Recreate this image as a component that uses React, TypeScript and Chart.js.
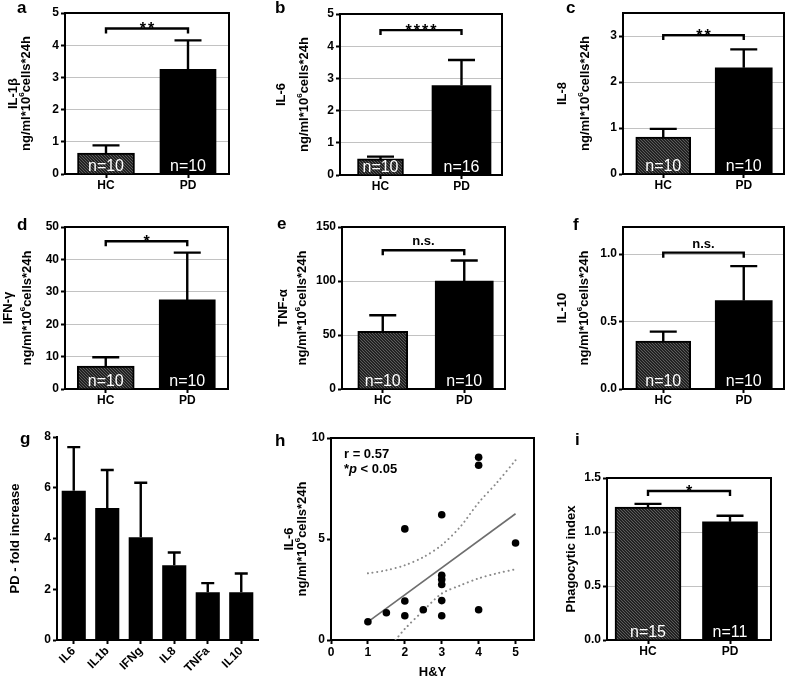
import React, { useEffect, useRef } from 'react';
import { Chart, registerables } from 'chart.js';
Chart.register(...registerables);

const FONT = "'Liberation Sans', Arial, Helvetica, sans-serif";
const PAGE_W = 787;
const PAGE_H = 677;
const YW = 40;

// ---------------- data ----------------
const groups = ['HC', 'PD'];

const il1bMean = [0.65, 3.25];
const il1bErr = [0.24, 0.9];
const il1bN = ['n=10', 'n=10'];
const il1bBracket = 4.52;
const il1bSig = '**';

const il6Mean = [0.5, 2.78];
const il6Err = [0.07, 0.79];
const il6N = ['n=10', 'n=16'];
const il6Bracket = 4.5;
const il6Sig = '****';

const il8Mean = [0.8, 2.31];
const il8Err = [0.18, 0.4];
const il8N = ['n=10', 'n=10'];
const il8Bracket = 3.02;
const il8Sig = '**';

const ifngMean = [7.1, 27.5];
const ifngErr = [2.7, 14.6];
const ifngN = ['n=10', 'n=10'];
const ifngBracket = 45.6;
const ifngSig = '*';

const tnfaMean = [53.5, 100];
const tnfaErr = [14.8, 19];
const tnfaN = ['n=10', 'n=10'];
const tnfaBracket = 128.5;
const tnfaSig = 'n.s.';

const il10Mean = [0.355, 0.655];
const il10Err = [0.07, 0.255];
const il10N = ['n=10', 'n=10'];
const il10Bracket = 1.01;
const il10Sig = 'n.s.';

const phagMean = [1.23, 1.095];
const phagErr = [0.03, 0.055];
const phagN = ['n=15', 'n=11'];
const phagBracket = 1.38;
const phagSig = '*';

const foldLabels = ['IL6', 'IL1b', 'IFNg', 'IL8', 'TNFa', 'IL10'];
const foldMean = [5.88, 5.2, 4.05, 2.95, 1.88, 1.88];
const foldErr = [1.72, 1.5, 2.15, 0.5, 0.36, 0.74];

const hyX = [1, 1.5, 2, 2, 2, 2.5, 3, 3, 3, 3, 3, 3, 4, 4, 4, 5];
const hyIL6 = [0.9, 1.35, 5.5, 1.93, 1.2, 1.5, 6.2, 3.2, 3.0, 2.75, 1.95, 1.2, 9.05, 8.65, 1.5, 4.8];
const fitX = [1, 5];
const fitY = [0.9, 6.25];
const ciUpperX = [1, 1.5, 2, 2.5, 3, 3.5, 4, 4.5, 5];
const ciUpperY = [3.3, 3.45, 3.7, 4.1, 4.7, 5.6, 6.8, 7.8, 8.9];
const ciLowerX = [1.75, 2, 2.5, 3, 3.5, 4, 4.5, 5];
const ciLowerY = [0, 0.55, 1.45, 2.3, 2.7, 3.05, 3.3, 3.5];
const hyStat1 = 'r = 0.57';
const hyStat2 = 'p < 0.05';

// ---------------- helpers ----------------
type Part = { t: string; sup?: boolean };
type Rect = { l: number; t: number; r: number; b: number };

const UNIT_LINE: Part[] = [{ t: 'ng/ml*10' }, { t: '6', sup: true }, { t: 'cells*24h' }];

function makeHatch(): CanvasPattern {
  const c = document.createElement('canvas');
  c.width = 6;
  c.height = 6;
  const g = c.getContext('2d')!;
  g.fillStyle = '#222222';
  g.fillRect(0, 0, 6, 6);
  g.strokeStyle = '#5c5c5c';
  g.lineWidth = 1;
  for (const k of [-6, -3, 0, 3, 6]) {
    g.beginPath();
    g.moveTo(k, 0);
    g.lineTo(k + 6, 6);
    g.stroke();
  }
  return g.createPattern(c, 'repeat')!;
}

function drawRotated(ctx: CanvasRenderingContext2D, x: number, y: number, parts: Part[], size: number) {
  ctx.save();
  ctx.translate(x, y);
  ctx.rotate(-Math.PI / 2);
  const main = `bold ${size}px ${FONT}`;
  const sup = `bold ${Math.round(size * 0.65)}px ${FONT}`;
  let total = 0;
  for (const p of parts) {
    ctx.font = p.sup ? sup : main;
    total += ctx.measureText(p.t).width;
  }
  let cx = -total / 2;
  ctx.textAlign = 'left';
  ctx.textBaseline = 'middle';
  ctx.fillStyle = '#000';
  for (const p of parts) {
    ctx.font = p.sup ? sup : main;
    ctx.fillText(p.t, cx, p.sup ? -4 : 0);
    cx += ctx.measureText(p.t).width;
  }
  ctx.restore();
}

type Decor = {
  plot: Rect;
  box: boolean;
  cap: number;
  titleLines: Part[][];
  titleXs: number[];
  letter: string;
  letterXY: [number, number];
  bracket?: number;
  sig?: string;
  extra?: (ctx: CanvasRenderingContext2D, chart: any) => void;
};

function makeDecor(d: Decor) {
  return {
    id: 'decor',
    afterDatasetsDraw(chart: any) {
      const ctx: CanvasRenderingContext2D = chart.ctx;
      const ys = chart.scales.y;
      chart.data.datasets.forEach((ds: any, i: number) => {
        const meta = chart.getDatasetMeta(i);
        if (ds.errs) {
          meta.data.forEach((el: any, j: number) => {
            const v = ds.data[j];
            const e = ds.errs[j];
            if (v == null || e == null) return;
            const yTop = ys.getPixelForValue(v + e);
            ctx.save();
            ctx.strokeStyle = '#000';
            ctx.lineWidth = 2.4;
            ctx.beginPath();
            ctx.moveTo(el.x, el.y);
            ctx.lineTo(el.x, yTop);
            ctx.moveTo(el.x - d.cap / 2, yTop);
            ctx.lineTo(el.x + d.cap / 2, yTop);
            ctx.stroke();
            ctx.restore();
          });
        }
        if (ds.nLabels) {
          meta.data.forEach((el: any, j: number) => {
            const t = ds.nLabels[j];
            if (!t) return;
            ctx.save();
            ctx.fillStyle = '#fff';
            ctx.font = `16px ${FONT}`;
            ctx.textAlign = 'center';
            ctx.textBaseline = 'alphabetic';
            ctx.fillText(t, el.x, chart.chartArea.bottom - 3);
            ctx.restore();
          });
        }
      });
    },
    afterDraw(chart: any) {
      const ctx: CanvasRenderingContext2D = chart.ctx;
      const { plot } = d;
      ctx.save();
      ctx.strokeStyle = '#000';
      ctx.lineWidth = 2;
      if (d.box) {
        ctx.beginPath();
        ctx.moveTo(plot.l - 1, plot.t);
        ctx.lineTo(plot.r, plot.t);
        ctx.lineTo(plot.r, plot.b);
        ctx.stroke();
      }
      if (d.bracket != null) {
        const xs = chart.scales.x;
        const x0 = xs.getPixelForValue(0);
        const x1 = xs.getPixelForValue(1);
        const y = chart.scales.y.getPixelForValue(d.bracket);
        ctx.lineWidth = 2.4;
        ctx.beginPath();
        ctx.moveTo(x0, y + 5);
        ctx.lineTo(x0, y);
        ctx.lineTo(x1, y);
        ctx.lineTo(x1, y + 5);
        ctx.stroke();
        ctx.fillStyle = '#000';
        ctx.textAlign = 'center';
        ctx.textBaseline = 'alphabetic';
        if (d.sig === 'n.s.') {
          ctx.font = `bold 13px ${FONT}`;
          ctx.fillText(d.sig, (x0 + x1) / 2, y - 5);
        } else {
          ctx.font = `bold 16px ${FONT}`;
          (ctx as any).letterSpacing = '2px';
          ctx.fillText(d.sig || '', (x0 + x1) / 2 + 1, y + 6);
          (ctx as any).letterSpacing = '0px';
        }
      }
      ctx.restore();
      const cy = (plot.t + plot.b) / 2;
      d.titleLines.forEach((ln, i) => drawRotated(ctx, d.titleXs[i], cy, ln, 13));
      ctx.save();
      ctx.fillStyle = '#000';
      ctx.font = `bold 17px ${FONT}`;
      ctx.textAlign = 'left';
      ctx.textBaseline = 'alphabetic';
      ctx.fillText(d.letter, d.letterXY[0], d.letterXY[1]);
      ctx.restore();
      if (d.extra) d.extra(ctx, chart);
    },
  };
}

const tickFont = { family: FONT, size: 12, weight: 'bold' as const };

function padding(plot: Rect, xh: number) {
  return { left: plot.l - YW, top: plot.t, right: PAGE_W - plot.r, bottom: PAGE_H - plot.b - xh };
}

function yScale(max: number, step: number, decimals: number, grid: boolean) {
  return {
    min: 0,
    max,
    grid: {
      display: true,
      drawOnChartArea: grid,
      color: (c: any) => (c.tick && c.tick.value > 1e-9 && c.tick.value < max - 1e-9 ? '#c2c2c2' : 'rgba(0,0,0,0)'),
      lineWidth: 1,
      tickColor: '#000',
      tickLength: 4,
      tickWidth: 2,
    },
    border: { display: true, color: '#000', width: 2 },
    ticks: {
      stepSize: step,
      includeBounds: false,
      color: '#000',
      font: tickFont,
      padding: 2,
      callback: (v: any) => Number(v).toFixed(decimals),
    },
    afterFit: (s: any) => {
      s.width = YW;
    },
  };
}

type BarOpts = {
  plot: Rect;
  yMax: number;
  yStep: number;
  decimals: number;
  means: number[];
  errs: number[];
  ns: string[];
  thick: number[];
  bracket: number;
  sig: string;
  titleLines: Part[][];
  titleXs: number[];
  letter: string;
  letterXY: [number, number];
};

function barPanel(o: BarOpts) {
  return (hatch: CanvasPattern) => ({
    type: 'bar',
    data: {
      labels: groups,
      datasets: [
        {
          data: [o.means[0], null],
          errs: [o.errs[0], null],
          nLabels: [o.ns[0], null],
          backgroundColor: hatch,
          borderColor: '#000',
          borderWidth: 2,
          barThickness: o.thick[0],
          grouped: false,
        },
        {
          data: [null, o.means[1]],
          errs: [null, o.errs[1]],
          nLabels: [null, o.ns[1]],
          backgroundColor: '#000',
          borderColor: '#000',
          borderWidth: 0,
          barThickness: o.thick[1],
          grouped: false,
        },
      ],
    },
    options: {
      responsive: false,
      animation: false,
      devicePixelRatio: 1,
      layout: { padding: padding(o.plot, 24) },
      plugins: { legend: { display: false }, tooltip: { enabled: false } },
      scales: {
        x: {
          type: 'category',
          offset: true,
          grid: { display: true, drawOnChartArea: false, offset: false, tickLength: 4, tickWidth: 2, tickColor: '#000' },
          border: { display: true, color: '#000', width: 2 },
          ticks: { color: '#000', font: tickFont, padding: 0 },
          afterFit: (s: any) => {
            s.height = 24;
          },
        },
        y: yScale(o.yMax, o.yStep, o.decimals, true),
      },
    },
    plugins: [
      makeDecor({
        plot: o.plot,
        box: true,
        cap: 27,
        titleLines: o.titleLines,
        titleXs: o.titleXs,
        letter: o.letter,
        letterXY: o.letterXY,
        bracket: o.bracket,
        sig: o.sig,
      }),
    ],
  });
}

const panelA = barPanel({
  plot: { l: 65, t: 13, r: 229, b: 174 }, yMax: 5, yStep: 1, decimals: 0,
  means: il1bMean, errs: il1bErr, ns: il1bN, thick: [57, 56], bracket: il1bBracket, sig: il1bSig,
  titleLines: [[{ t: 'IL-1β' }], UNIT_LINE], titleXs: [13, 26], letter: 'a', letterXY: [17, 13],
});
const panelB = barPanel({
  plot: { l: 340, t: 14, r: 502, b: 175 }, yMax: 5, yStep: 1, decimals: 0,
  means: il6Mean, errs: il6Err, ns: il6N, thick: [46, 59], bracket: il6Bracket, sig: il6Sig,
  titleLines: [[{ t: 'IL-6' }], UNIT_LINE], titleXs: [281, 304], letter: 'b', letterXY: [275, 13],
});
const panelC = barPanel({
  plot: { l: 623, t: 13, r: 784, b: 174 }, yMax: 3.5, yStep: 1, decimals: 0,
  means: il8Mean, errs: il8Err, ns: il8N, thick: [55, 57], bracket: il8Bracket, sig: il8Sig,
  titleLines: [[{ t: 'IL-8' }], UNIT_LINE], titleXs: [562, 585], letter: 'c', letterXY: [566, 13],
});
const panelD = barPanel({
  plot: { l: 65, t: 227, r: 228, b: 389 }, yMax: 50, yStep: 10, decimals: 0,
  means: ifngMean, errs: ifngErr, ns: ifngN, thick: [57, 56], bracket: ifngBracket, sig: ifngSig,
  titleLines: [[{ t: 'IFN-γ' }], UNIT_LINE], titleXs: [8, 27], letter: 'd', letterXY: [17, 230],
});
const panelE = barPanel({
  plot: { l: 342, t: 227, r: 505, b: 389 }, yMax: 150, yStep: 50, decimals: 0,
  means: tnfaMean, errs: tnfaErr, ns: tnfaN, thick: [50, 58], bracket: tnfaBracket, sig: tnfaSig,
  titleLines: [[{ t: 'TNF-α' }], UNIT_LINE], titleXs: [283, 302], letter: 'e', letterXY: [277, 229],
});
const panelF = barPanel({
  plot: { l: 623, t: 227, r: 784, b: 389 }, yMax: 1.2, yStep: 0.5, decimals: 1,
  means: il10Mean, errs: il10Err, ns: il10N, thick: [55, 57], bracket: il10Bracket, sig: il10Sig,
  titleLines: [[{ t: 'IL-10' }], UNIT_LINE], titleXs: [562, 584], letter: 'f', letterXY: [573, 230],
});
const panelI = barPanel({
  plot: { l: 607, t: 478, r: 771, b: 640 }, yMax: 1.5, yStep: 0.5, decimals: 1,
  means: phagMean, errs: phagErr, ns: phagN, thick: [66, 55], bracket: phagBracket, sig: phagSig,
  titleLines: [[{ t: 'Phagocytic index' }]], titleXs: [571], letter: 'i', letterXY: [575, 445],
});

const gPlot: Rect = { l: 57, t: 437, r: 258, b: 640 };
const panelG = (_h: CanvasPattern) => ({
  type: 'bar',
  data: {
    labels: foldLabels,
    datasets: [
      {
        data: foldMean,
        errs: foldErr,
        backgroundColor: '#000',
        borderWidth: 0,
        barPercentage: 0.72,
        categoryPercentage: 1,
      },
    ],
  },
  options: {
    responsive: false,
    animation: false,
    devicePixelRatio: 1,
    layout: { padding: padding(gPlot, 40) },
    plugins: { legend: { display: false }, tooltip: { enabled: false } },
    scales: {
      x: {
        type: 'category',
        offset: true,
        grid: { display: true, drawOnChartArea: false, offset: false, tickLength: 4, tickWidth: 2, tickColor: '#000' },
        border: { display: true, color: '#000', width: 2 },
        ticks: { color: '#000', font: tickFont, padding: 0, minRotation: 45, maxRotation: 45 },
        afterFit: (s: any) => {
          s.height = 40;
        },
      },
      y: yScale(8, 2, 0, false),
    },
  },
  plugins: [
    makeDecor({
      plot: gPlot, box: false, cap: 13,
      titleLines: [[{ t: 'PD - fold increase' }]], titleXs: [15],
      letter: 'g', letterXY: [20, 444],
    }),
  ],
});

const hPlot: Rect = { l: 331, t: 438, r: 534, b: 640 };
const toPts = (xs: number[], ys: number[]) => xs.map((x, i) => ({ x, y: ys[i] }));
const panelH = (_h: CanvasPattern) => ({
  type: 'scatter',
  data: {
    datasets: [
      {
        data: toPts(hyX, hyIL6),
        backgroundColor: '#000',
        borderColor: '#000',
        pointRadius: 3.8,
        borderWidth: 0,
      },
      {
        data: toPts(fitX, fitY),
        showLine: true,
        borderColor: '#6e6e6e',
        borderWidth: 1.6,
        pointRadius: 0,
      },
      {
        data: toPts(ciUpperX, ciUpperY),
        showLine: true,
        borderColor: '#8a8a8a',
        borderWidth: 2,
        borderDash: [0.1, 4.6],
        borderCapStyle: 'round',
        pointRadius: 0,
        tension: 0.3,
      },
      {
        data: toPts(ciLowerX, ciLowerY),
        showLine: true,
        borderColor: '#8a8a8a',
        borderWidth: 2,
        borderDash: [0.1, 4.6],
        borderCapStyle: 'round',
        pointRadius: 0,
        tension: 0.3,
      },
    ],
  },
  options: {
    responsive: false,
    animation: false,
    devicePixelRatio: 1,
    layout: { padding: padding(hPlot, 36) },
    plugins: { legend: { display: false }, tooltip: { enabled: false } },
    scales: {
      x: {
        type: 'linear',
        min: 0,
        max: 5.5,
        grid: { display: true, drawOnChartArea: false, tickLength: 4, tickWidth: 2, tickColor: '#000' },
        border: { display: true, color: '#000', width: 2 },
        ticks: { stepSize: 1, includeBounds: false, color: '#000', font: tickFont, padding: 1 },
        afterBuildTicks: (s: any) => {
          s.ticks = s.ticks.filter((t: any) => Number.isInteger(t.value));
        },
        afterFit: (s: any) => {
          s.height = 36;
        },
      },
      y: yScale(10, 5, 0, false),
    },
  },
  plugins: [
    makeDecor({
      plot: hPlot, box: true, cap: 0,
      titleLines: [[{ t: 'IL-6' }], UNIT_LINE], titleXs: [289, 302],
      letter: 'h', letterXY: [275, 446],
      extra: (ctx) => {
        ctx.save();
        ctx.fillStyle = '#000';
        ctx.textAlign = 'left';
        ctx.textBaseline = 'alphabetic';
        ctx.font = `bold 13px ${FONT}`;
        ctx.fillText(hyStat1, 344, 458);
        ctx.fillText('*', 344, 473);
        let x = 344 + ctx.measureText('*').width;
        ctx.font = `italic bold 13px ${FONT}`;
        ctx.fillText(hyStat2.slice(0, 1), x, 473);
        x += ctx.measureText(hyStat2.slice(0, 1)).width;
        ctx.font = `bold 13px ${FONT}`;
        ctx.fillText(hyStat2.slice(1), x, 473);
        ctx.textAlign = 'center';
        ctx.textBaseline = 'middle';
        ctx.fillText('H&Y', (hPlot.l + hPlot.r) / 2, 672);
        ctx.restore();
      },
    }),
  ],
});

const builders = [panelA, panelB, panelC, panelD, panelE, panelF, panelG, panelH, panelI];

function PanelChart({ build }: { build: (h: CanvasPattern) => any }) {
  const ref = useRef<HTMLCanvasElement>(null);
  useEffect(() => {
    const canvas = ref.current!;
    const chart = new Chart(canvas, build(makeHatch()));
    return () => chart.destroy();
  }, [build]);
  return (
    <canvas
      ref={ref}
      width={PAGE_W}
      height={PAGE_H}
      style={{ position: 'absolute', left: 0, top: 0, width: PAGE_W, height: PAGE_H, pointerEvents: 'none' }}
    />
  );
}

export default function App() {
  return (
    <div
      style={{
        position: 'absolute',
        left: 0,
        top: 0,
        width: PAGE_W,
        height: PAGE_H,
        background: '#fff',
        overflow: 'hidden',
      }}
    >
      {builders.map((b, i) => (
        <PanelChart key={i} build={b} />
      ))}
    </div>
  );
}
